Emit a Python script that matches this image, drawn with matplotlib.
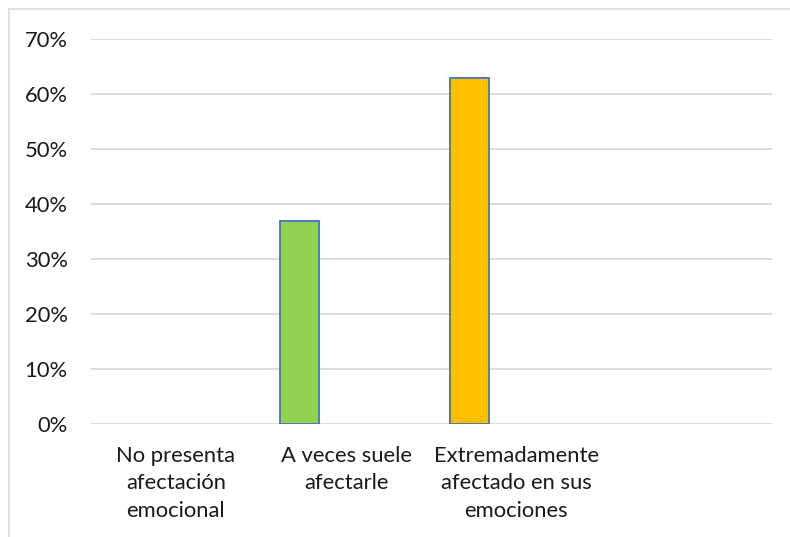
import matplotlib.pyplot as plt
from matplotlib.lines import Line2D
from matplotlib.ticker import PercentFormatter
import numpy as np

# survey answers (last slot is an empty category on the axis)
categories = ['No presenta\nafectación\nemocional',
              'A veces suele\nafectarle',
              'Extremadamente\nafectado en sus\nemociones',
              '']
values = [0.0, 0.37, 0.63, 0.0]
colors = ['#5B9BD5', '#92D050', '#FFC000', '#5B9BD5']

plt.rcParams['font.family'] = ['Lato', 'DejaVu Sans']

fig = plt.figure(figsize=(7.9, 5.37), dpi=100)
ax = fig.add_axes([90.7 / 790, 1 - 424 / 537, (771.7 - 90.7) / 790, (424 - 39) / 537])

index = np.arange(len(categories))
bar_width = 0.229
offset = -0.276

for i, v in enumerate(values):
    if v > 0:
        ax.bar(index[i] + offset, v, bar_width, color=colors[i],
               edgecolor='#4472C4', linewidth=1.3, zorder=3)

ax.set_xlim(-0.5, len(categories) - 0.5)
ax.set_ylim(0, 0.7)
ax.set_yticks(np.arange(0, 0.71, 0.1))
ax.yaxis.set_major_formatter(PercentFormatter(1.0, decimals=0))
ax.set_xticks(index)
ax.set_xticklabels(categories, linespacing=1.45)

ax.grid(axis='y', color='#d9d9d9', linewidth=1.3, zorder=0)
ax.tick_params(axis='y', length=0, pad=16.5, labelsize=15.8, labelcolor='#1a1a1a')
ax.tick_params(axis='x', length=0, pad=16, labelsize=15.8, labelcolor='#1a1a1a')
for s in ax.spines.values():
    s.set_visible(False)

# chart area border
fig.add_artist(Line2D([9 / 790, 9 / 790], [0, 1 - 9 / 537], color='#d9d9d9',
                      linewidth=1.2, transform=fig.transFigure))
fig.add_artist(Line2D([9 / 790, 1], [1 - 9 / 537, 1 - 9 / 537], color='#d9d9d9',
                      linewidth=1.2, transform=fig.transFigure))

fig.savefig('out.png', dpi=100)
